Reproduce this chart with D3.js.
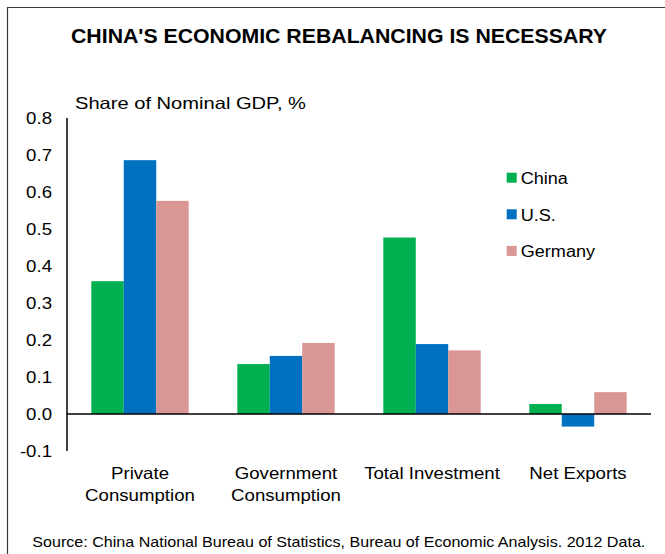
<!DOCTYPE html>
<html><head><meta charset="utf-8">
<script src="https://cdn.jsdelivr.net/npm/d3@7"></script>
<style>html,body{margin:0;padding:0;background:#fff;} svg{display:block;font-family:"Liberation Sans",Arial,sans-serif;}</style>
</head><body>
<script>
const categories = [["Private","Consumption"],["Government","Consumption"],["Total Investment"],["Net Exports"]];
const seriesNames = ["China","U.S.","Germany"];
const china   = [0.359, 0.135, 0.477, 0.027];
const us      = [0.686, 0.157, 0.189, -0.034];
const germany = [0.576, 0.192, 0.172, 0.059];
const yTicks  = [0.8,0.7,0.6,0.5,0.4,0.3,0.2,0.1,0.0,-0.1];
const colors  = ["#00B050","#0070C0","#DA9694"];

const W=665,H=554, SX=1.13;
const svg=d3.select("body").append("svg").attr("width",W).attr("height",H);
svg.append("rect").attr("width",W).attr("height",H).attr("fill","#fff");
svg.append("path").attr("d","M7.5,"+(H+5)+"V7.5H"+(W+5)).attr("fill","none").attr("stroke","#3a3a3a").attr("stroke-width",1.2);

svg.append("text").attr("x",71).attr("y",42.7).attr("font-weight","bold").attr("font-size",20)
  .attr("textLength",536).attr("lengthAdjust","spacingAndGlyphs").text("CHINA'S ECONOMIC REBALANCING IS NECESSARY");
svg.append("text").attr("x",75).attr("y",108.5).attr("font-size",16.5)
  .attr("textLength",231).attr("lengthAdjust","spacingAndGlyphs").text("Share of Nominal GDP, %");
svg.append("text").attr("x",32.3).attr("y",546.7).attr("font-size",15)
  .attr("textLength",613).attr("lengthAdjust","spacingAndGlyphs").text("Source: China National Bureau of Statistics, Bureau of Economic Analysis. 2012 Data.");

const x=d3.scaleBand().domain(d3.range(categories.length)).range([67,651]).paddingInner(0.333).paddingOuter(0.1665);
const xs=d3.scaleBand().domain(d3.range(seriesNames.length)).range([0,x.bandwidth()]);
const y=d3.scaleLinear().domain([-0.1,0.8]).range([451,118]);

const data=[china,us,germany];
data.forEach((vals,si)=>{
  svg.append("g").selectAll("rect").data(vals).join("rect")
    .attr("x",(d,i)=>x(i)+xs(si)).attr("width",xs.bandwidth())
    .attr("y",d=>y(Math.max(0,d))).attr("height",d=>Math.abs(y(d)-y(0)))
    .attr("fill",colors[si]);
});

// y axis labels
const yg=svg.append("g");
yTicks.forEach(t=>{
  yg.append("text").attr("transform",`translate(52,${y(t)+6}) scale(${SX},1)`).attr("text-anchor","end")
    .attr("font-size",16.5).text(t.toFixed(1));
});
svg.append("line").attr("x1",67).attr("x2",67).attr("y1",y(0.8)).attr("y2",y(-0.1)).attr("stroke","#000").attr("stroke-width",1.5);
svg.append("line").attr("x1",67).attr("x2",651).attr("y1",y(0)).attr("y2",y(0)).attr("stroke","#000").attr("stroke-width",1.5);

// category labels
categories.forEach((lines,i)=>{
  const cx=x(i)+x.bandwidth()/2;
  lines.forEach((ln,j)=>{
    svg.append("text").attr("transform",`translate(${cx},${479+j*22}) scale(${SX},1)`).attr("text-anchor","middle")
      .attr("font-size",16.5).text(ln);
  });
});

// legend
seriesNames.forEach((n,i)=>{
  const yy=172.7+i*36.6;
  svg.append("rect").attr("x",506.7).attr("y",yy).attr("width",10).attr("height",10).attr("fill",colors[i]);
  svg.append("text").attr("transform",`translate(520.7,${yy+11.3}) scale(${SX},1)`).attr("font-size",16).text(n);
});
</script>
</body></html>
